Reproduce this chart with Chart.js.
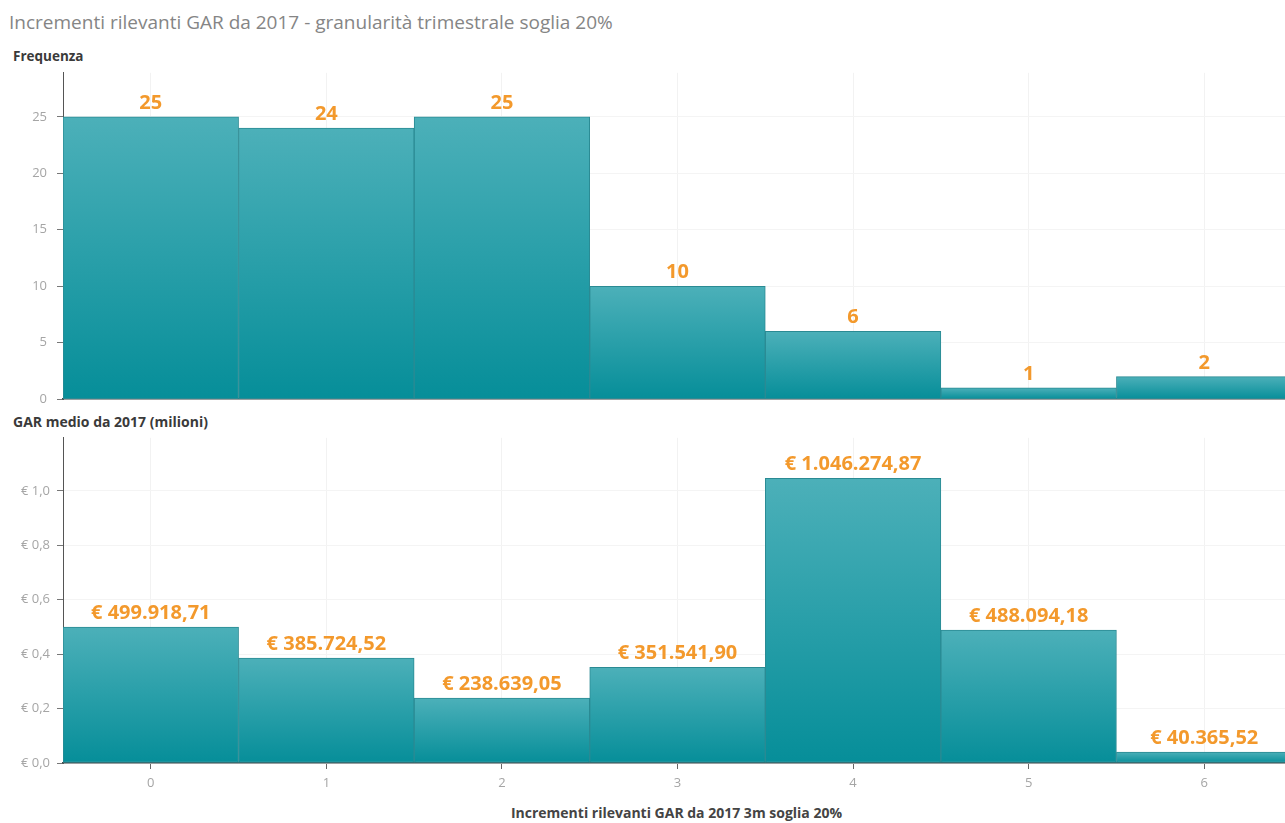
<!DOCTYPE html>
<html>
<head>
<meta charset="utf-8">
<script src="https://cdn.jsdelivr.net/npm/chart.js@4.4.1/dist/chart.umd.min.js"></script>
<style>
  html, body { margin:0; padding:0; background:#fff; width:1285px; height:823px; overflow:hidden; position:relative; font-family:"Open Sans", sans-serif; }
  .txt { position:absolute; white-space:nowrap; }
  #title { left:9px; top:9px; font-size:19px; color:#858585; }
  #ylab1 { left:13px; top:47px; font-size:13.5px; font-weight:bold; color:#3a3a3a; }
  #ylab2 { left:13px; top:412px; font-size:14px; font-weight:bold; color:#3a3a3a; }
  #xlab { left:0; width:1353px; text-align:center; top:803px; font-size:14px; font-weight:bold; color:#444; }
  #c1wrap { position:absolute; left:0; top:55px; width:1292px; height:362px; }
  #c2wrap { position:absolute; left:0; top:423px; width:1292px; height:400px; }
</style>
</head>
<body>
<div id="title" class="txt">Incrementi rilevanti GAR da 2017 - granularità trimestrale soglia 20%</div>
<div id="ylab1" class="txt">Frequenza</div>
<div id="ylab2" class="txt">GAR medio da 2017 (milioni)</div>
<div id="xlab" class="txt">Incrementi rilevanti GAR da 2017 3m soglia 20%</div>
<div id="c1wrap"><canvas id="c1"></canvas></div>
<div id="c2wrap"><canvas id="c2"></canvas></div>
<script>
const categories = ["0", "1", "2", "3", "4", "5", "6"];
const frequenza = [25, 24, 25, 10, 6, 1, 2];
const garMedioEuro = [499918.71, 385724.52, 238639.05, 351541.90, 1046274.87, 488094.18, 40365.52];
const freqTicks = [0, 5, 10, 15, 20, 25];
const garTicks = [0, 0.2, 0.4, 0.6, 0.8, 1.0];

const ORANGE = "#f3992c";
const LABEL_FONT = "bold 20px 'Open Sans', sans-serif";
const TICK_FONT = { size: 13, family: "'Open Sans', sans-serif" };

function fmtIt(v) {
  const fixed = v.toFixed(2);
  const [intPart, dec] = fixed.split(".");
  const withDots = intPart.replace(/\B(?=(\d{3})+(?!\d))/g, ".");
  return withDots + "," + dec;
}

function barGradient(context) {
  const chart = context.chart;
  const area = chart.chartArea;
  if (!area) return "#2aa0aa";
  const y = chart.scales.y;
  const v = context.raw;
  const top = y.getPixelForValue(v);
  const bottom = y.getPixelForValue(0);
  if (!isFinite(top) || bottom - top < 1) return "#1b98a2";
  const g = chart.ctx.createLinearGradient(0, top, 0, bottom);
  g.addColorStop(0, "#4cb0b9");
  g.addColorStop(1, "#068e99");
  return g;
}

const valueLabels = {
  id: "valueLabels",
  afterDatasetsDraw(chart, args, opts) {
    const ctx = chart.ctx;
    const meta = chart.getDatasetMeta(0);
    ctx.save();
    ctx.font = LABEL_FONT;
    ctx.fillStyle = ORANGE;
    ctx.textAlign = "center";
    ctx.textBaseline = "alphabetic";
    meta.data.forEach((bar, i) => {
      ctx.fillText(opts.labels[i], bar.x, bar.y - 8);
    });
    ctx.restore();
  }
};

function commonX(hideTicks) {
  return {
    type: "category",
    offset: true,
    grid: { display: true, color: "#f2f2f2", offset: false, drawTicks: !hideTicks, tickLength: 6, tickColor: "#666", tickWidth: 1 },
    border: { display: true, color: "#3f4a4d", width: 1.5 },
    ticks: { display: !hideTicks, color: "#a5a5a5", font: TICK_FONT, padding: 6 },
  };
}

function yAxis(max, ticksList, fmt, pad) {
  return {
    min: 0,
    max: max,
    grid: { color: "#f4f4f4", drawTicks: true, tickLength: 6, tickColor: "#777" },
    border: { display: true, color: "#555", width: 1 },
    ticks: { color: "#a5a5a5", font: TICK_FONT, padding: pad, callback: fmt },
    afterBuildTicks(scale) { scale.ticks = ticksList.map(v => ({ value: v })); },
    afterFit(scale) { scale.width = 63; }
  };
}

new Chart(document.getElementById("c1"), {
  type: "bar",
  data: {
    labels: categories,
    datasets: [{
      data: frequenza,
      backgroundColor: barGradient,
      borderColor: "#2a8a93",
      borderWidth: 1,
      borderSkipped: false,
      barPercentage: 1,
      categoryPercentage: 1
    }]
  },
  options: {
    responsive: true,
    maintainAspectRatio: false,
    animation: false,
    layout: { padding: { top: 10, right: 0, left: 0, bottom: 0 } },
    plugins: {
      legend: { display: false },
      tooltip: { enabled: false },
      valueLabels: { labels: frequenza.map(v => String(v)) }
    },
    scales: {
      x: Object.assign(commonX(true), { afterFit(scale) { scale.height = 8; } }),
      y: yAxis(28.9, freqTicks, v => String(v), 10)
    }
  },
  plugins: [valueLabels]
});

const garMilioni = garMedioEuro.map(v => v / 1e6);

new Chart(document.getElementById("c2"), {
  type: "bar",
  data: {
    labels: categories,
    datasets: [{
      data: garMilioni,
      backgroundColor: barGradient,
      borderColor: "#2a8a93",
      borderWidth: 1,
      borderSkipped: false,
      barPercentage: 1,
      categoryPercentage: 1
    }]
  },
  options: {
    responsive: true,
    maintainAspectRatio: false,
    animation: false,
    layout: { padding: { top: 8, right: 0, left: 0, bottom: 0 } },
    plugins: {
      legend: { display: false },
      tooltip: { enabled: false },
      valueLabels: { labels: garMedioEuro.map(v => "€ " + fmtIt(v)) }
    },
    scales: {
      x: Object.assign(commonX(false), { afterFit(scale) { scale.height = 60; } }),
      y: yAxis(1.195, garTicks, v => "€ " + v.toFixed(1).replace(".", ","), 7)
    }
  },
  plugins: [valueLabels]
});
</script>
</body>
</html>
